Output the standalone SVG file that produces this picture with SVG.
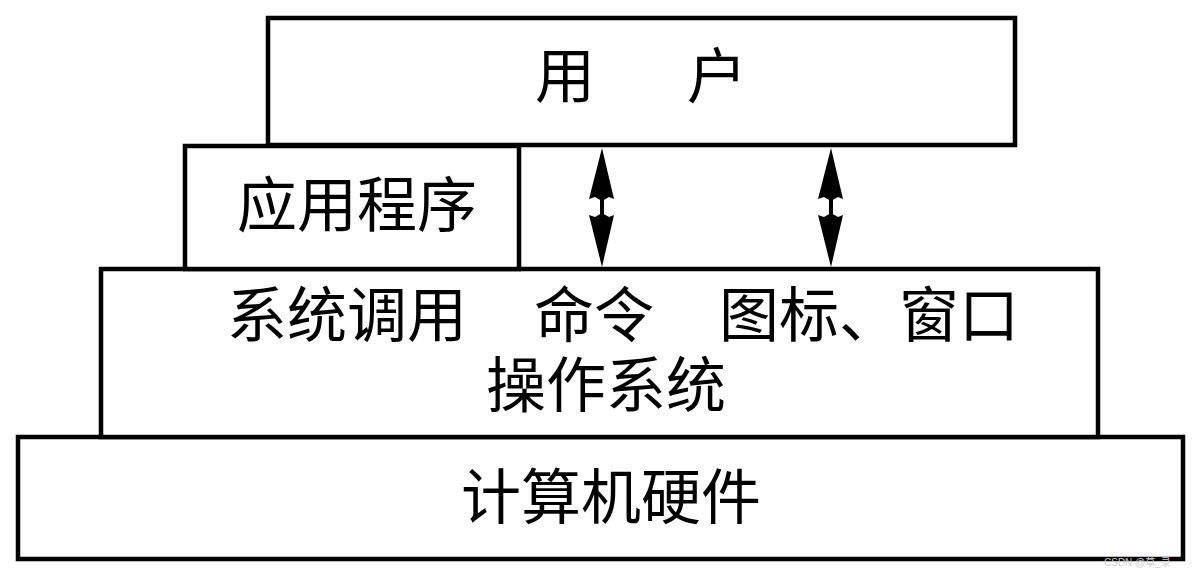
<svg xmlns="http://www.w3.org/2000/svg" width="1201" height="578" viewBox="0 0 1201 578">
<style>
.box{fill:#fff;stroke:#000;stroke-width:4.5;stroke-linejoin:miter}
.t{font-family:"Noto Sans CJK SC","Noto Sans CJK JP",sans-serif;font-size:60px;fill:#000;font-weight:400}
.wm{font-family:"Liberation Sans","Noto Sans CJK SC",sans-serif;font-size:10px;fill:#d0d0d0}
.arrow{fill:#000;stroke:none}
.shaft{stroke:#000;stroke-width:4}
</style>
<rect width="1201" height="578" fill="#fff"/>
<g id="hardware">
<rect class="box" x="18" y="437" width="1165" height="122"/>
<text class="t" x="461" y="519">计算机硬件</text>
</g>
<g id="os">
<rect class="box" x="101" y="269" width="997" height="168"/>
<text class="t" x="227" y="337">系统调用</text>
<text class="t" x="534" y="337">命令</text>
<text class="t" x="719" y="337">图标、窗口</text>
<text class="t" x="486" y="407">操作系统</text>
</g>
<g id="app">
<rect class="box" x="185" y="146" width="334" height="123"/>
<text class="t" x="237" y="227">应用程序</text>
</g>
<g id="user">
<rect class="box" x="268" y="18" width="747" height="127"/>
<text class="t" x="535" y="98">用</text>
<text class="t" x="687" y="98">户</text>
</g>
<g id="connectors">
<g>
<line class="shaft" x1="602" y1="195" x2="602" y2="220"/>
<polygon class="arrow" points="602,148 614,199 609,197 602,201 595,197 589,199"/>
<polygon class="arrow" points="602,267 614,215 609,217 602,213 595,217 589,215"/>
</g>
<g>
<line class="shaft" x1="831" y1="195" x2="831" y2="220"/>
<polygon class="arrow" points="831,148 843,199 838,197 831,201 824,197 818,199"/>
<polygon class="arrow" points="831,267 843,215 838,217 831,213 824,217 818,215"/>
</g>
</g>
<text class="wm" x="1104" y="566">CSDN @草_录</text>
</svg>
